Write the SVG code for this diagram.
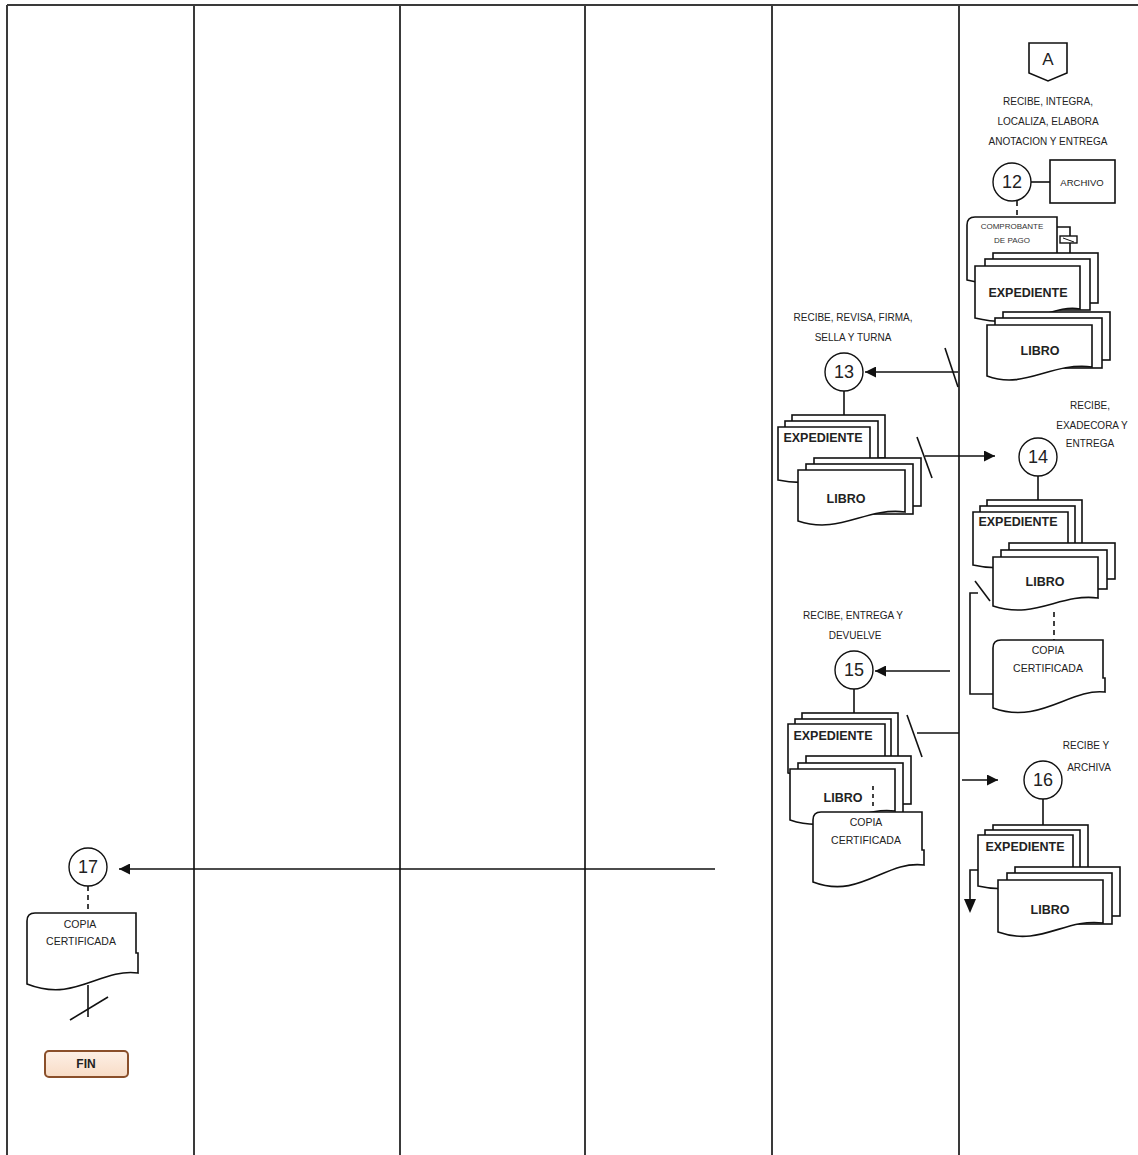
<svg xmlns="http://www.w3.org/2000/svg" width="1138" height="1155" viewBox="0 0 1138 1155">
<defs>
<style>
.frame{stroke:#3a3a3a;stroke-width:2;fill:none}
.ln{stroke:#111;stroke-width:1.6;fill:none}
.dash{stroke:#111;stroke-width:1.6;fill:none;stroke-dasharray:5,4}
.pg{fill:#fff;stroke:#111;stroke-width:1.6}
.circ{fill:#fff;stroke:#111;stroke-width:1.4}
.num{font-family:"Liberation Sans",Arial,sans-serif;font-size:18px;fill:#222;text-anchor:middle;dominant-baseline:central}
.lbl{font-family:"Liberation Sans",Arial,sans-serif;font-size:10px;fill:#222;text-anchor:middle;dominant-baseline:central}
.big{font-family:"Liberation Sans",Arial,sans-serif;font-size:12.5px;font-weight:bold;fill:#222;text-anchor:middle;dominant-baseline:central}
.sm{font-family:"Liberation Sans",Arial,sans-serif;font-size:10.5px;fill:#222;text-anchor:middle;dominant-baseline:central}
.tiny{font-family:"Liberation Sans",Arial,sans-serif;font-size:8px;fill:#333;text-anchor:middle;dominant-baseline:central}
</style>
<marker id="arrB" viewBox="0 0 10 10" refX="10" refY="5" markerWidth="12" markerHeight="11" markerUnits="userSpaceOnUse" orient="auto">
<path d="M0,0 L10,5 L0,10 Z" fill="#111"/>
</marker>
<linearGradient id="finG" x1="0" y1="0" x2="0" y2="1">
<stop offset="0" stop-color="#fdf0e6"/>
<stop offset="1" stop-color="#f8dcc6"/>
</linearGradient>
</defs>
<rect width="1138" height="1155" fill="#fff"/>

<g id="frame">
<line class="frame" x1="7" y1="5" x2="1138" y2="5"/>
<line class="frame" x1="7" y1="5" x2="7" y2="1155"/>
<line class="frame" x1="194" y1="5" x2="194" y2="1155"/>
<line class="frame" x1="400" y1="5" x2="400" y2="1155"/>
<line class="frame" x1="585" y1="5" x2="585" y2="1155"/>
<line class="frame" x1="772" y1="5" x2="772" y2="1155"/>
<line class="frame" x1="959" y1="5" x2="959" y2="1155"/>
</g>

<g id="connectors">
<line class="ln" x1="1031" y1="182" x2="1050" y2="182"/>
<line class="dash" x1="1017" y1="201" x2="1017" y2="217"/>
<path class="ln" d="M1057,227 H1070 V236 M1070,243 V253"/>
<rect x="1060" y="236" width="17" height="7" fill="#fff" stroke="#111" stroke-width="1.4"/>
<line x1="1063" y1="238" x2="1074" y2="242" stroke="#111" stroke-width="1"/>
<line class="ln" x1="958" y1="372" x2="865" y2="372" marker-end="url(#arrB)"/>
<line class="ln" x1="945" y1="348" x2="958" y2="387"/>
<line class="ln" x1="844" y1="391" x2="844" y2="415"/>
<line class="ln" x1="917" y1="437" x2="932" y2="478"/>
<line class="ln" x1="925" y1="456" x2="995" y2="456" marker-end="url(#arrB)"/>
<line class="ln" x1="1038" y1="476" x2="1038" y2="500"/>
<line class="dash" x1="1054" y1="612" x2="1054" y2="640"/>
<path class="ln" d="M978,593 H970 V694 H993"/>
<line class="ln" x1="975" y1="581" x2="990" y2="601"/>
<line class="ln" x1="950" y1="671" x2="875" y2="671" marker-end="url(#arrB)"/>
<line class="ln" x1="854" y1="689" x2="854" y2="713"/>
<line class="ln" x1="907" y1="715" x2="922" y2="757"/>
<line class="ln" x1="917" y1="733" x2="959" y2="733"/>
<line class="ln" x1="962" y1="780" x2="998" y2="780" marker-end="url(#arrB)"/>
<line class="ln" x1="1043" y1="799" x2="1043" y2="825"/>
<line class="ln" x1="715" y1="869" x2="119" y2="869" marker-end="url(#arrB)"/>
<line class="dash" x1="88" y1="886" x2="88" y2="913"/>
<line class="ln" x1="88" y1="985" x2="88" y2="1017"/>
<line class="ln" x1="70" y1="1020" x2="108" y2="997"/>
</g>

<g id="offpage-A">
<path class="pg" d="M1029,43 H1067 V73 L1048,81 L1029,73 Z"/>
<text x="1048" y="59" class="num" style="font-size:17px">A</text>
</g>

<g id="step12">
<text class="lbl" x="1048" y="101">RECIBE, INTEGRA,</text>
<text class="lbl" x="1048" y="121">LOCALIZA, ELABORA</text>
<text class="lbl" x="1048" y="141">ANOTACION Y ENTREGA</text>
<circle class="circ" cx="1012" cy="182" r="19"/>
<text class="num" x="1012" y="182">12</text>
</g>

<g id="archivo">
<rect class="pg" x="1050" y="160" width="65" height="43"/>
<text class="lbl" x="1082" y="182" style="font-size:9.5px">ARCHIVO</text>
</g>

<g id="comprobante">
<path class="pg" d="M975,217 H1057 V273 C1030,266 1010,292 967,280 V225 Q967,217 975,217 Z"/>
<text class="tiny" x="1012" y="226">COMPROBANTE</text>
<text class="tiny" x="1012" y="240">DE PAGO</text>
</g>

<g id="expediente12">
<rect class="pg" x="993" y="253" width="105" height="50"/>
<rect class="pg" x="985" y="259" width="105" height="51"/>
<path class="pg" d="M975,266 H1080 V309 C1050,304 1030,331 975,318 Z"/>
<text class="big" x="1028" y="293">EXPEDIENTE</text>
</g>

<g id="libro12">
<rect class="pg" x="1003" y="312" width="107" height="48"/>
<rect class="pg" x="995" y="318" width="107" height="50"/>
<path class="pg" d="M987,325 H1092 V367 C1050,362 1025,390 987,376 Z"/>
<text class="big" x="1040" y="351">LIBRO</text>
</g>

<g id="step13">
<text class="lbl" x="853" y="317">RECIBE, REVISA, FIRMA,</text>
<text class="lbl" x="853" y="337">SELLA Y TURNA</text>
<circle class="circ" cx="844" cy="372" r="19"/>
<text class="num" x="844" y="372">13</text>
</g>

<g id="expediente13">
<rect class="pg" x="792" y="415" width="93" height="43"/>
<rect class="pg" x="785" y="421" width="93" height="45"/>
<path class="pg" d="M778,427 H870 V470 C845,465 825,490 778,480 Z"/>
<text class="big" x="823" y="438">EXPEDIENTE</text>
</g>

<g id="libro13">
<rect class="pg" x="814" y="458" width="107" height="48"/>
<rect class="pg" x="806" y="464" width="107" height="50"/>
<path class="pg" d="M798,470 H905 V512 C865,507 840,535 798,521 Z"/>
<text class="big" x="846" y="499">LIBRO</text>
</g>

<g id="step14">
<text class="lbl" x="1090" y="405">RECIBE,</text>
<text class="lbl" x="1092" y="425">EXADECORA Y</text>
<text class="lbl" x="1090" y="443">ENTREGA</text>
<circle class="circ" cx="1038" cy="457" r="19"/>
<text class="num" x="1038" y="457">14</text>
</g>

<g id="expediente14">
<rect class="pg" x="987" y="500" width="95" height="45"/>
<rect class="pg" x="980" y="506" width="95" height="47"/>
<path class="pg" d="M973,512 H1068 V556 C1040,551 1020,576 973,565 Z"/>
<text class="big" x="1018" y="522">EXPEDIENTE</text>
</g>

<g id="libro14">
<rect class="pg" x="1009" y="543" width="106" height="36"/>
<rect class="pg" x="1001" y="550" width="106" height="39"/>
<path class="pg" d="M993,557 H1098 V598 C1060,593 1035,620 993,606 Z"/>
<text class="big" x="1045" y="582">LIBRO</text>
</g>

<g id="copia14">
<path class="pg" d="M1001,640 H1103 V678 H1105 V692 C1070,688 1040,725 993,708 V648 Q993,640 1001,640 Z"/>
<text class="sm" x="1048" y="650">COPIA</text>
<text class="sm" x="1048" y="668">CERTIFICADA</text>
</g>

<g id="step15">
<text class="lbl" x="853" y="615">RECIBE, ENTREGA Y</text>
<text class="lbl" x="855" y="635">DEVUELVE</text>
<circle class="circ" cx="854" cy="670" r="19"/>
<text class="num" x="854" y="670">15</text>
</g>

<g id="expediente15">
<rect class="pg" x="802" y="713" width="96" height="44"/>
<rect class="pg" x="795" y="719" width="96" height="46"/>
<path class="pg" d="M788,724 H885 V765 C855,760 835,785 788,773 Z"/>
<text class="big" x="833" y="736">EXPEDIENTE</text>
</g>

<g id="libro15">
<rect class="pg" x="806" y="756" width="105" height="48"/>
<rect class="pg" x="798" y="763" width="105" height="50"/>
<path class="pg" d="M790,769 H895 V811 C860,806 835,835 790,820 Z"/>
<text class="big" x="843" y="798">LIBRO</text>
<line class="dash" x1="873" y1="786" x2="873" y2="807" style="stroke-dasharray:4,4"/>
</g>

<g id="copia15">
<path class="pg" d="M821,812 H922 V850 H924 V865 C885,860 860,900 813,882 V820 Q813,812 821,812 Z"/>
<text class="sm" x="866" y="822">COPIA</text>
<text class="sm" x="866" y="840">CERTIFICADA</text>
</g>

<g id="step16">
<text class="lbl" x="1086" y="745">RECIBE Y</text>
<text class="lbl" x="1089" y="767">ARCHIVA</text>
<circle class="circ" cx="1043" cy="780" r="19"/>
<text class="num" x="1043" y="780">16</text>
</g>

<g id="expediente16">
<rect class="pg" x="993" y="825" width="95" height="43"/>
<rect class="pg" x="985" y="830" width="95" height="46"/>
<path class="pg" d="M978,835 H1073 V877 C1045,872 1025,897 978,886 Z"/>
<text class="big" x="1025" y="847">EXPEDIENTE</text>
<path class="ln" d="M978,870 H970 V900"/>
<path d="M964,899 L976,899 L970,913 Z" fill="#111"/>
</g>

<g id="libro16">
<rect class="pg" x="1015" y="867" width="105" height="49"/>
<rect class="pg" x="1007" y="873" width="105" height="51"/>
<path class="pg" d="M998,880 H1103 V923 C1065,918 1040,947 998,932 Z"/>
<text class="big" x="1050" y="910">LIBRO</text>
</g>

<g id="step17">
<circle class="circ" cx="88" cy="867" r="19"/>
<text class="num" x="88" y="867">17</text>
</g>

<g id="copia17">
<path class="pg" d="M35,913 H136 V953 H138 V973 C100,968 75,1003 27,984 V921 Q27,913 35,913 Z"/>
<text class="sm" x="80" y="924">COPIA</text>
<text class="sm" x="81" y="941">CERTIFICADA</text>
</g>

<g id="fin">
<rect x="45" y="1051" width="83" height="26" rx="4" fill="url(#finG)" stroke="#8a4f2a" stroke-width="2"/>
<text x="86" y="1064" class="sm" style="font-weight:bold;font-size:12px;fill:#222">FIN</text>
</g>
</svg>
